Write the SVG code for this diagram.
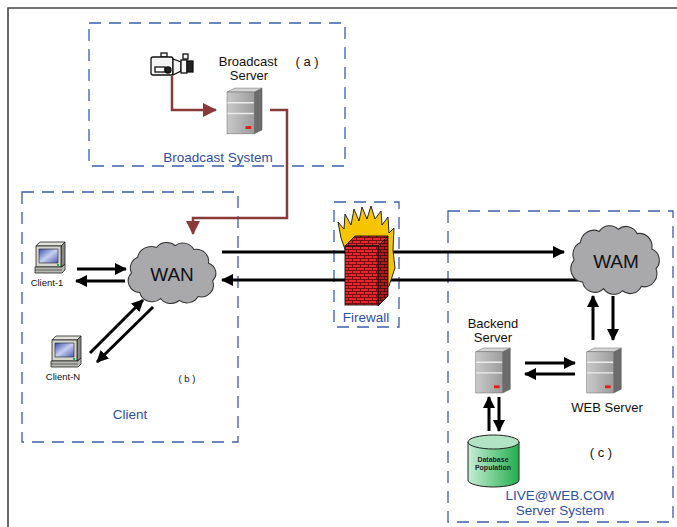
<svg xmlns="http://www.w3.org/2000/svg" width="677" height="527" viewBox="0 0 677 527">
  <style>
    .zone { fill: none; stroke: #3a5eaa; stroke-width: 1.3; stroke-dasharray: 12 8; }
    .blue { font-family: "Liberation Sans", Arial, sans-serif; fill: #2f4f9f; font-size: 13.5px; text-anchor: middle; }
    .lbl { font-family: "Liberation Sans", Arial, sans-serif; fill: #111; font-size: 13px; text-anchor: middle; }
    .small { font-family: "Liberation Sans", Arial, sans-serif; fill: #111; font-size: 9.5px; text-anchor: middle; }
    .cloudtxt { font-family: "Liberation Sans", Arial, sans-serif; fill: #111; font-size: 19px; text-anchor: middle; }
    .link { fill: none; stroke: #000; stroke-width: 3; }
    .feed { fill: none; stroke: #8b3a3a; stroke-width: 2.5; }
  </style>
  <defs>
    <marker id="ah" markerUnits="userSpaceOnUse" markerWidth="12" markerHeight="12" viewBox="0 0 12 12" refX="11" refY="6" orient="auto">
      <path d="M0,0 L12,6 L0,12 Z" fill="#000"/>
    </marker>
    <marker id="ahr" markerUnits="userSpaceOnUse" markerWidth="14" markerHeight="14" viewBox="0 0 14 14" refX="13" refY="7" orient="auto">
      <path d="M0,0 L14,7 L0,14 Z" fill="#8b3a3a"/>
    </marker>
    <linearGradient id="srvFront" x1="0" y1="0" x2="1" y2="0">
      <stop offset="0" stop-color="#c9c9c9"/>
      <stop offset="1" stop-color="#9c9c9c"/>
    </linearGradient>
    <linearGradient id="screen" x1="0" y1="0" x2="1" y2="1">
      <stop offset="0" stop-color="#3b4fa8"/>
      <stop offset="0.5" stop-color="#c8d0f0"/>
      <stop offset="1" stop-color="#4a5cb0"/>
    </linearGradient>
    <linearGradient id="dbBody" x1="0" y1="0" x2="1" y2="0">
      <stop offset="0" stop-color="#c8eed6"/>
      <stop offset="1" stop-color="#22ad4c"/>
    </linearGradient>
    <pattern id="bricks" patternUnits="userSpaceOnUse" width="8" height="6">
      <rect width="8" height="6" fill="#e8262b"/>
      <path d="M0,0.5 H8 M0,3.5 H8 M0.5,0.5 V3.5 M4.5,3.5 V6.5" stroke="#5a0808" stroke-width="0.8" fill="none"/>
    </pattern>
    <!-- rack server -->
    <symbol id="server" viewBox="0 0 37 48" overflow="visible">
      <polygon points="28,5 36,1 36,44 28,48" fill="#6c6c6c" stroke="#555" stroke-width="0.5"/>
      <polygon points="0,5 8,1 36,1 28,5" fill="#d4d4d4" stroke="#666" stroke-width="0.5"/>
      <rect x="0" y="5" width="28" height="43" fill="url(#srvFront)" stroke="#666" stroke-width="0.5"/>
      <path d="M0.5,16 H27.5 M0.5,27 H27.5" stroke="#ececec" stroke-width="1.5"/>
      <rect x="19" y="40" width="6" height="3" fill="#e02020"/>
    </symbol>
    <!-- desktop monitor -->
    <symbol id="monitor" viewBox="0 0 31 31" overflow="visible">
      <polygon points="1,4 5,0 30,0 26,4" fill="#e2e2da" stroke="#222" stroke-width="0.8"/>
      <polygon points="26,4 30,0 30,22 26,25" fill="#8a8a84" stroke="#222" stroke-width="0.8"/>
      <rect x="1" y="4" width="25" height="21" fill="#d6d6ce" stroke="#222" stroke-width="0.8"/>
      <rect x="4" y="7" width="19" height="14" fill="url(#screen)" stroke="#222" stroke-width="0.6"/>
      <rect x="22" y="22" width="2" height="2" fill="#1ab84a"/>
      <polygon points="0,25 27,25 30,22 30,28 27,31 0,31" fill="#b8b8b2" stroke="#222" stroke-width="0.8"/>
      <path d="M0,28 H27" stroke="#222" stroke-width="0.6"/>
    </symbol>
    <!-- network cloud -->
    <path id="cloud" d="M-30,20 a12,12 0 0 1 -8,-20 a12,12 0 0 1 6,-16 a13,13 0 0 1 18,-10 a12,12 0 0 1 18,-2 a12,12 0 0 1 18,4 a12,12 0 0 1 14,14 a11,11 0 0 1 4,18 a12,12 0 0 1 -14,16 a12,12 0 0 1 -18,4 a12,12 0 0 1 -18,-2 a12,12 0 0 1 -20,-6 Z" fill="#a9a9ab" stroke="#333" stroke-width="1"/>
  </defs>

  <rect width="677" height="527" fill="#fff"/>
  <!-- page frame -->
  <path d="M8,527 V8 H677" fill="none" stroke="#444" stroke-width="1.6"/>

  <!-- system zones -->
  <g id="zones">
    <rect class="zone" x="89" y="23" width="256" height="143"/>
    <rect class="zone" x="22" y="192" width="216" height="250"/>
    <rect class="zone" x="334" y="202" width="65" height="125"/>
    <rect class="zone" x="448" y="211" width="225" height="311"/>
  </g>

  <!-- connectors -->
  <g id="connectors">
    <path class="feed" d="M172,76 V110 H216" marker-end="url(#ahr)"/>
    <path class="feed" d="M270,110 H287 V218 H193 V234" marker-end="url(#ahr)"/>
    <line class="link" x1="77" y1="269" x2="126" y2="269" marker-end="url(#ah)"/>
    <line class="link" x1="125" y1="281" x2="76" y2="281" marker-end="url(#ah)"/>
    <line class="link" x1="90" y1="353" x2="143" y2="300" marker-end="url(#ah)"/>
    <line class="link" x1="153" y1="307" x2="97" y2="362" marker-end="url(#ah)"/>
    <line class="link" x1="222" y1="252" x2="564" y2="252" marker-end="url(#ah)"/>
    <line class="link" x1="578" y1="280" x2="222" y2="280" marker-end="url(#ah)"/>
    <line class="link" x1="593" y1="340" x2="593" y2="296" marker-end="url(#ah)"/>
    <line class="link" x1="613" y1="296" x2="613" y2="340" marker-end="url(#ah)"/>
    <line class="link" x1="525" y1="363" x2="575" y2="363" marker-end="url(#ah)"/>
    <line class="link" x1="575" y1="374" x2="525" y2="374" marker-end="url(#ah)"/>
    <line class="link" x1="489" y1="431" x2="489" y2="397" marker-end="url(#ah)"/>
    <line class="link" x1="499" y1="397" x2="499" y2="431" marker-end="url(#ah)"/>
  </g>

  <!-- (a) broadcast system -->
  <g id="camera" fill="#f4f4f4" stroke="#111" stroke-width="1.3">
    <rect x="161" y="53" width="6" height="4"/>
    <rect x="151" y="57" width="22" height="18" rx="2"/>
    <rect x="155" y="67" width="10" height="5" fill="#fff"/>
    <circle cx="168" cy="70" r="3" fill="#222"/>
    <polygon points="173,59 181,62 181,71 173,75"/>
    <rect x="181" y="60" width="6" height="13"/>
    <rect x="187" y="61" width="6" height="11" fill="#222"/>
    <rect x="183" y="54" width="5" height="5"/>
  </g>
  <g id="broadcast-server">
    <use href="#server" x="227" y="86" width="36" height="49"/>
    <text class="lbl" x="248" y="66" font-size="12.5">Broadcast</text>
    <text class="lbl" x="249" y="80" font-size="12.5">Server</text>
    <text class="lbl" x="307" y="66" font-size="12" xml:space="preserve">( a )</text>
    <text class="blue" x="218" y="162">Broadcast System</text>
  </g>

  <!-- (b) client side -->
  <g id="wan">
    <use href="#cloud" transform="translate(171,273) scale(1.04,0.98)"/>
    <text class="cloudtxt" x="172" y="281">WAN</text>
  </g>
  <g id="client-1">
    <use href="#monitor" x="35" y="242" width="31" height="31"/>
    <text class="small" x="47" y="286">Client-1</text>
  </g>
  <g id="client-n">
    <use href="#monitor" x="51" y="336" width="31" height="31"/>
    <text class="small" x="63" y="380">Client-N</text>
    <text class="small" x="187" y="382" font-size="9" xml:space="preserve">( b )</text>
    <text class="blue" x="130" y="419" font-size="14">Client</text>
  </g>

  <!-- firewall -->
  <g id="firewall">
    <path d="M346,252 L341,238 L338,222 L344,229 L345,214 L351,225 L354,209 L359,221 L362,207 L367,219 L371,206 L375,219 L381,211 L382,225 L388,217 L389,233 L394,228 L393,250 L395,268 L389,286 L380,290 Z" fill="#f7c400" stroke="#111" stroke-width="0.9"/>
    <polygon points="345,246 355,236 388,236 378,246" fill="url(#bricks)" stroke="#111" stroke-width="0.9"/>
    <polygon points="378,246 388,236 388,296 378,306" fill="url(#bricks)" stroke="#111" stroke-width="0.9"/>
    <polygon points="378,246 388,236 388,296 378,306" fill="#000" opacity="0.25"/>
    <rect x="345" y="246" width="33" height="59" fill="url(#bricks)" stroke="#111" stroke-width="0.9"/>
    <text class="blue" x="366" y="322" font-size="14">Firewall</text>
  </g>

  <!-- (c) server system -->
  <g id="wam">
    <use href="#cloud" transform="translate(614,260) scale(1.05,1.1)"/>
    <text class="cloudtxt" x="616" y="268">WAM</text>
  </g>
  <g id="backend-server">
    <use href="#server" x="475" y="347" width="37" height="46"/>
    <text class="lbl" x="493" y="328">Backend</text>
    <text class="lbl" x="493" y="342">Server</text>
  </g>
  <g id="web-server">
    <use href="#server" x="586" y="347" width="37" height="46"/>
    <text class="lbl" x="607" y="412">WEB Server</text>
  </g>
  <g id="database">
    <path d="M468,442 V480 A25.5,7 0 0 0 519,480 V442 Z" fill="url(#dbBody)" stroke="#222" stroke-width="1"/>
    <ellipse cx="493.5" cy="442" rx="25.5" ry="7" fill="#b2e3c4" stroke="#222" stroke-width="1"/>
    <text x="493" y="462" font-family="Liberation Sans, Arial, sans-serif" font-size="7" font-weight="bold" fill="#222" text-anchor="middle">Database</text>
    <text x="493" y="470" font-family="Liberation Sans, Arial, sans-serif" font-size="7" font-weight="bold" fill="#222" text-anchor="middle">Population</text>
  </g>
  <g id="server-system-label">
    <text class="lbl" x="601" y="457" font-size="12" xml:space="preserve">( c )</text>
    <text class="blue" x="560" y="500" font-size="14">LIVE@WEB.COM</text>
    <text class="blue" x="560" y="515" font-size="14">Server System</text>
  </g>
</svg>
